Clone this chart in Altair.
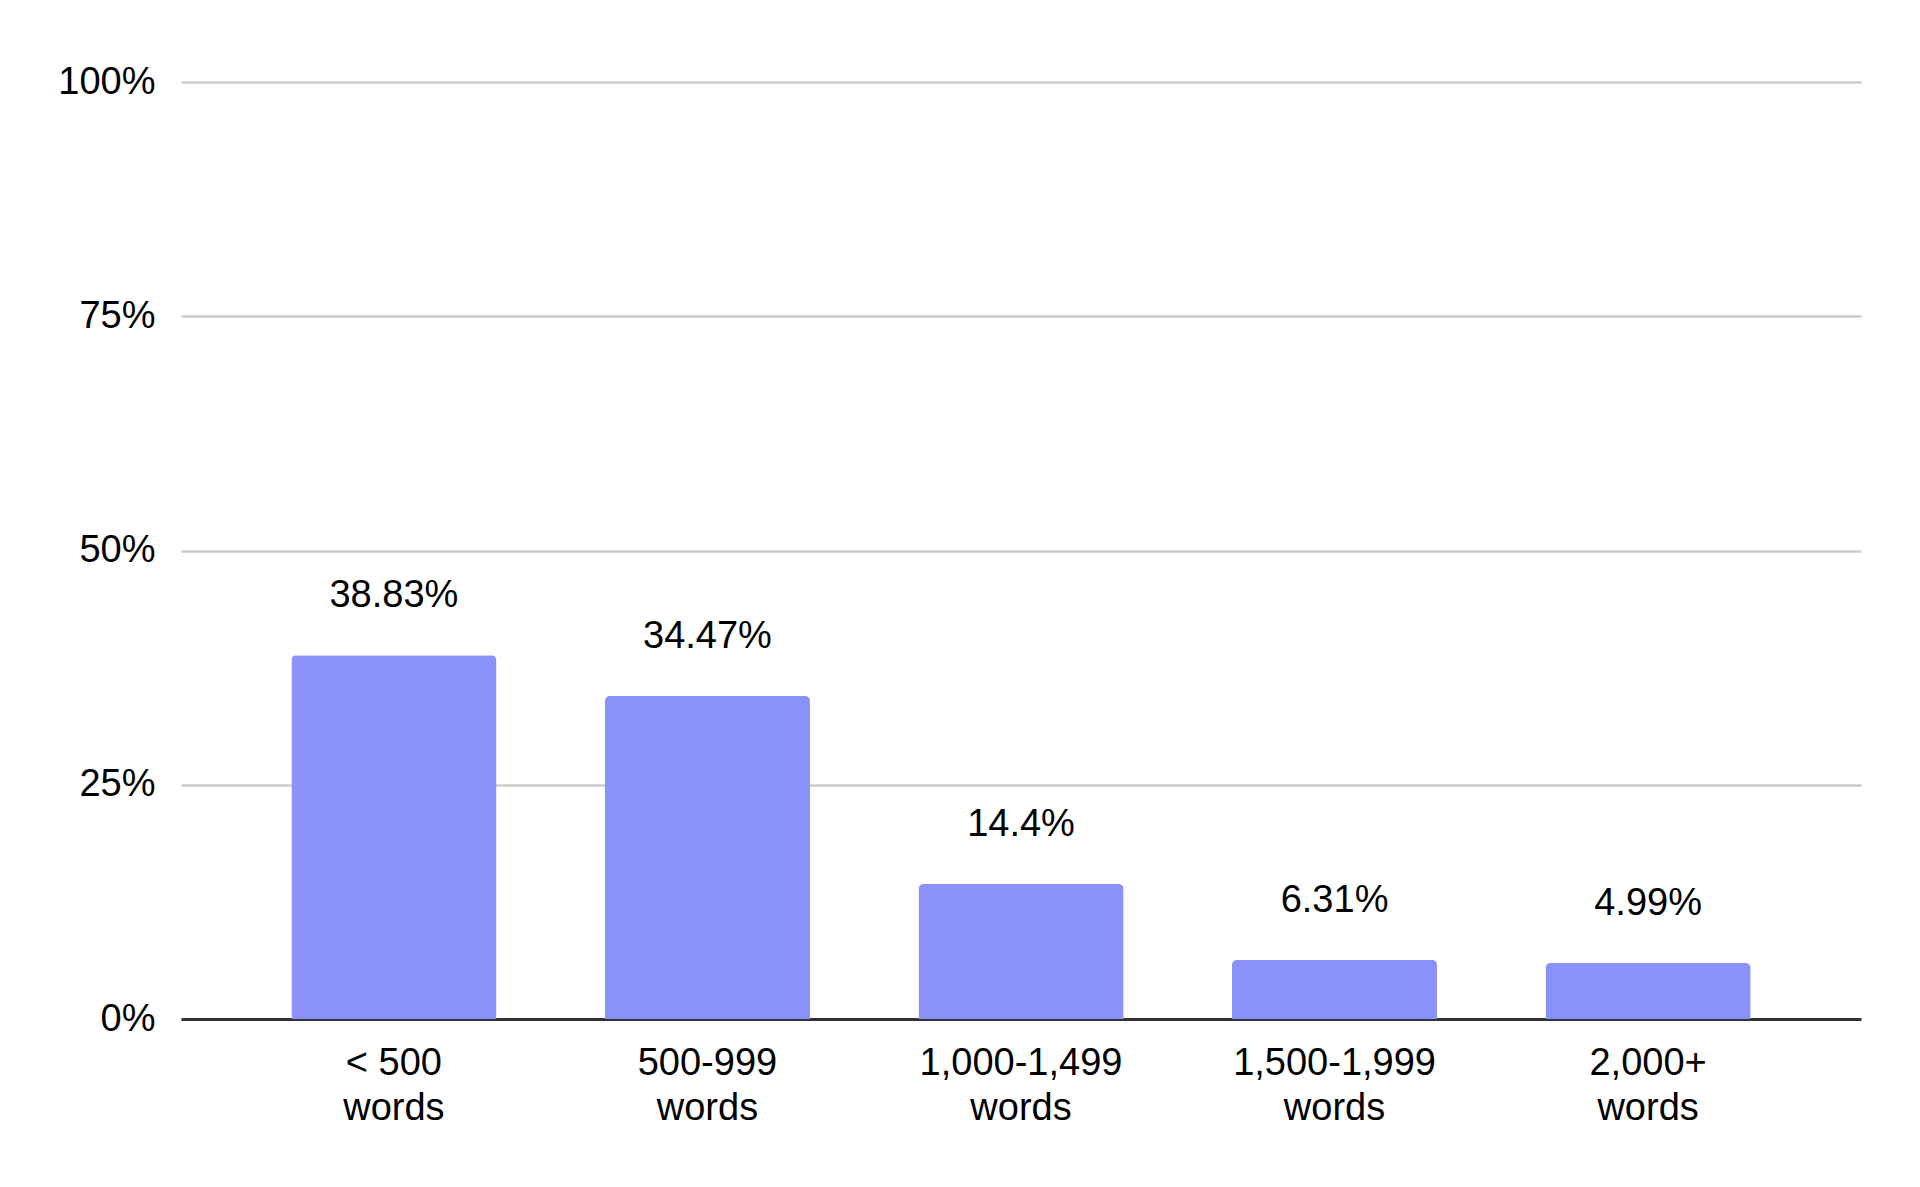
import altair as alt
import pandas as pd

categories = ["< 500 words", "500-999 words", "1,000-1,499 words", "1,500-1,999 words", "2,000+ words"]
bar_values = [38.83, 34.47, 14.4, 6.31, 5.97]
value_labels = ["38.83%", "34.47%", "14.4%", "6.31%", "4.99%"]
y_ticks = [0, 25, 50, 75, 100]

df = pd.DataFrame({"cat": categories, "value": bar_values, "label": value_labels})

FONT = "Liberation Sans"
BAR_COLOR = "#8a92f9"
FS = 38

x_enc = alt.X(
    "cat:N",
    sort=categories,
    title=None,
    scale=alt.Scale(paddingInner=0.346, paddingOuter=0.352),
    axis=alt.Axis(
        labelAngle=0,
        labelFont=FONT,
        labelFontSize=FS,
        labelColor="#000000",
        labelBaseline="alphabetic",
        labelLineHeight=45,
        labelPadding=55,
        labelLimit=0,
        labelExpr="[split(datum.label, ' words')[0], 'words']",
        ticks=False,
        tickSize=0,
        domain=True,
        domainColor="#333333",
        domainWidth=3,
        grid=False,
    ),
)

y_enc = alt.Y(
    "value:Q",
    title=None,
    scale=alt.Scale(domain=[0, 100], nice=False),
    axis=alt.Axis(
        values=y_ticks,
        labelExpr="datum.value + '%'",
        labelFont=FONT,
        labelFontSize=FS,
        labelColor="#000000",
        labelPadding=26,
        ticks=False,
        tickSize=0,
        domain=False,
        grid=True,
        gridColor="#cccccc",
        gridWidth=2.5,
    ),
)

bars = alt.Chart(df).mark_bar(
    color=BAR_COLOR,
    cornerRadiusTopLeft=5,
    cornerRadiusTopRight=5,
).encode(x=x_enc, y=y_enc)

texts = alt.Chart(df).mark_text(
    font=FONT,
    fontSize=FS,
    color="#000000",
    align="center",
    baseline="alphabetic",
    dy=-48,
).encode(x=alt.X("cat:N", sort=categories), y=alt.Y("value:Q"), text="label:N")

chart = (
    alt.layer(bars, texts)
    .properties(
        width=1680,
        height=937,
        autosize=alt.AutoSizeParams(type="none"),
        padding={"left": 173, "top": 74, "right": 51, "bottom": 150},
        background="#ffffff",
    )
    .configure_view(stroke=None)
)

chart.save("out.html", embed_options={"renderer": "svg", "actions": False})
